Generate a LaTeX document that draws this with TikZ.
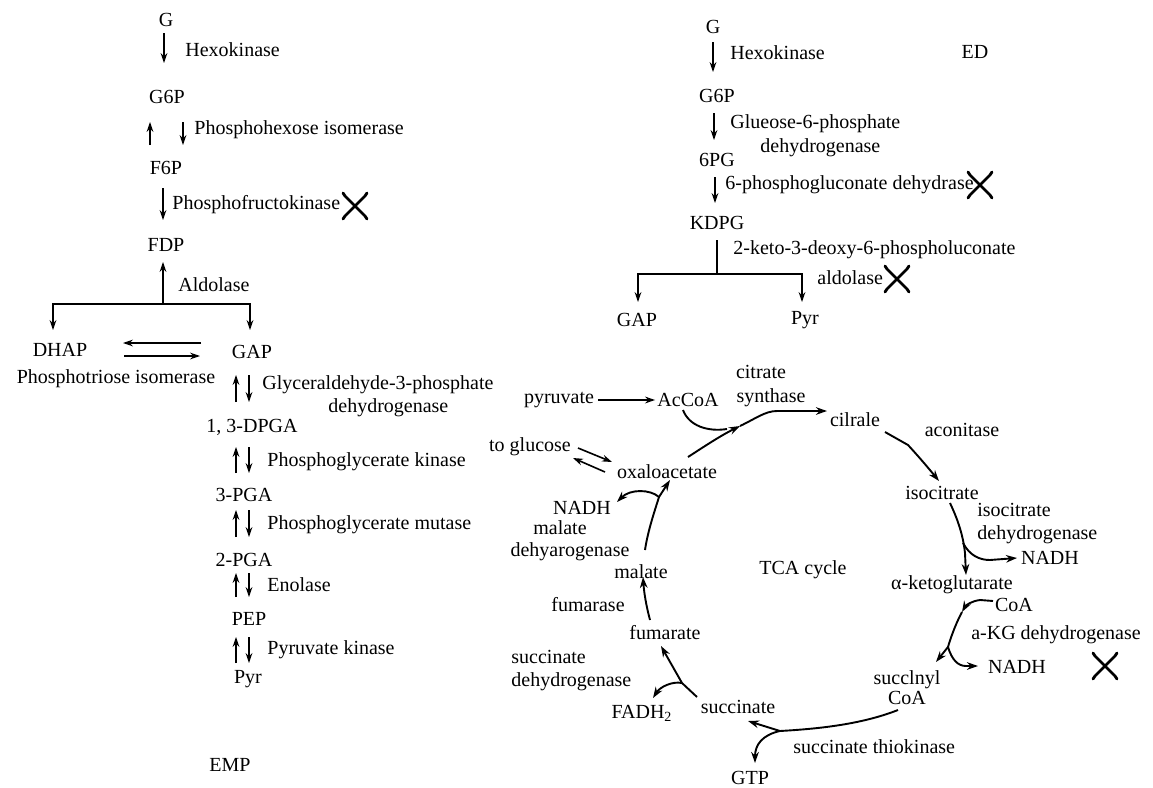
\documentclass[tikz,border=0pt]{standalone}
\usepackage{fontspec}
\setmainfont{Liberation Serif}
\usetikzlibrary{arrows.meta}
\begin{document}
\begin{tikzpicture}[x=0.5pt,y=-0.5pt,
  every node/.style={font=\fontsize{10}{12}\selectfont, inner sep=0pt},
  ar/.style={-{Stealth[length=5pt,width=3.4pt]}, line width=0.65pt},
  tca/.style={-{Stealth[length=5.5pt,width=3.8pt]}, line width=0.95pt},
  ln/.style={line width=0.65pt},
  xmark/.pic={
    \draw[line width=1.4pt,line cap=round] (-12,-13) -- (-10,-10) -- (10,10) -- (12,13);
    \draw[line width=1.4pt,line cap=round] (12,-13) -- (10,-10) -- (-10,10) -- (-12,13);
  }]
\useasboundingbox (0,0) rectangle (1153,788);

% ================= EMP =================
\node (eG) at (166,20) {G};
\coordinate (eGa) at (164,33); \coordinate (eGb) at (164,63);
\draw[ar] (eGa) -- (eGb);
\node[anchor=west] (eHex) at (185,50) {Hexokinase};
\node (eG6P) at (167,97) {G6P};
\coordinate (pu1) at (150,145); \coordinate (pu2) at (150,122);
\coordinate (pd1) at (183,122); \coordinate (pd2) at (183,145);
\draw[ar] (pu1) -- (pu2);
\draw[ar] (pd1) -- (pd2);
\node[anchor=west] (ePHI) at (194,130) {Phosphohexose isomerase};
\node (eF6P) at (166,168) {F6P};
\coordinate (pf1) at (163,188); \coordinate (pf2) at (163,220);
\draw[ar] (pf1) -- (pf2);
\node[anchor=west] (ePFK) at (172,205) {Phosphofructokinase};
\pic at (355,206) {xmark};
\node (eFDP) at (166,245) {FDP};
\coordinate (ej) at (163,304); \coordinate (eFb) at (163,262);
\draw[ar] (ej) -- (eFb);
\node[anchor=west] (eAld) at (178,285) {Aldolase};
\coordinate (eDt) at (53,330); \coordinate (eGt) at (250,330);
\draw[ar] (ej) -| (eDt);
\draw[ar] (ej) -| (eGt);
\node (eDHAP) at (60,350) {DHAP};
\node (eGAP) at (252,352) {GAP};
\coordinate (ti1) at (201,343); \coordinate (ti2) at (123,343);
\coordinate (ti3) at (124,356); \coordinate (ti4) at (200,356);
\draw[ar] (ti1) -- (ti2);
\draw[ar] (ti3) -- (ti4);
\node (ePTI) at (116,379) {Phosphotriose isomerase};

\foreach \t/\b/\n in {375/402/a,447/473/b,510/537/c,573/597/d,637/663/e}{
  \coordinate (u1\n) at (236,\b); \coordinate (u2\n) at (236,\t);
  \coordinate (d1\n) at (249,\t); \coordinate (d2\n) at (249,\b);
  \draw[ar] (u1\n) -- (u2\n);
  \draw[ar] (d1\n) -- (d2\n);
}
\node[anchor=west] (eGAPDH1) at (262,385) {Glyceraldehyde-3-phosphate};
\node[anchor=west] (eGAPDH2) at (328,408) {dehydrogenase};
\node (eDPGA) at (252,427) {1, 3-DPGA};
\node[anchor=west] (ePGK) at (267,462) {Phosphoglycerate kinase};
\node (e3PGA) at (244,495) {3-PGA};
\node[anchor=west] (ePGM) at (267,525) {Phosphoglycerate mutase};
\node (e2PGA) at (244,560) {2-PGA};
\node[anchor=west] (eEno) at (267,585) {Enolase};
\node (ePEP) at (249,619) {PEP};
\node[anchor=west] (ePK) at (267,650) {Pyruvate kinase};
\node (ePyr) at (248,679) {Pyr};
\node (eEMP) at (230,765) {EMP};

% ================= ED =================
\node (dG) at (713,27) {G};
\coordinate (dg1) at (713,42); \coordinate (dg2) at (713,72);
\draw[ar] (dg1) -- (dg2);
\node[anchor=west] (dHex) at (730,53) {Hexokinase};
\node (dED) at (975,52) {ED};
\node (dG6P) at (717,96) {G6P};
\coordinate (dh1) at (714,113); \coordinate (dh2) at (714,140);
\draw[ar] (dh1) -- (dh2);
\node[anchor=west] (dG6PDH1) at (730,124) {Glueose-6-phosphate};
\node[anchor=west] (dG6PDH2) at (760,148) {dehydrogenase};
\node (d6PG) at (717,160) {6PG};
\coordinate (dk1) at (715,177); \coordinate (dk2) at (715,203);
\draw[ar] (dk1) -- (dk2);
\node[anchor=west] (dEDD) at (725,185) {6-phosphogluconate dehydrase};
\pic at (980,185) {xmark};
\node (dKDPG) at (717,223) {KDPG};
\coordinate (dj0) at (717,240); \coordinate (dj) at (717,274);
\coordinate (dGt) at (638,302); \coordinate (dPt) at (802,302);
\draw[ln] (dj0) -- (dj);
\draw[ar] (dj) -| (dGt);
\draw[ar] (dj) -| (dPt);
\node[anchor=west] (dEDA1) at (733,250) {2-keto-3-deoxy-6-phospholuconate};
\node[anchor=west] (dEDA2) at (817,278) {aldolase};
\pic at (897,279) {xmark};
\node (dGAP) at (637,320) {GAP};
\node (dPyr) at (805,320) {Pyr};

% ================= TCA =================
\node (tPyr) at (559,400) {pyruvate};
\node (tAc) at (688,400) {AcCoA};
\draw[ar, line width=0.8pt, shorten <=2pt, shorten >=1pt] (tPyr) -- (tAc);
\node (tCS1) at (761,372) {citrate};
\node (tCS2) at (771,398) {synthase};
\node (tCit) at (855,420) {cilrale};
\node (tAco) at (962,430) {aconitase};
\node (tIso) at (942,493) {isocitrate};
\node[anchor=west] (tIDH1) at (977,510) {isocitrate};
\node[anchor=west] (tIDH2) at (977,535) {dehydrogenase};
\node (tN1) at (1050,558) {NADH};
\node (tAKG) at (952,585) {α-ketoglutarate};
\node (tCoA1) at (1014,605) {CoA};
\node (tKGDH) at (1056,635) {a-KG dehydrogenase};
\node (tN2) at (1017,667) {NADH};
\pic at (1105,666) {xmark};
\node (tSc1) at (907,680) {succlnyl};
\node (tSc2) at (907,698) {CoA};
\node[anchor=west] (tSTK) at (793,747) {succinate thiokinase};
\node (tSuc) at (738,707) {succinate};
\node (tGTP) at (750,778) {GTP};
\node (tFAD) at (642,713) {FADH\textsubscript{2}};
\node[anchor=west] (tSDH1) at (511,657) {succinate};
\node[anchor=west] (tSDH2) at (511,682) {dehydrogenase};
\node (tFum) at (665,633) {fumarate};
\node (tFuma) at (588,605) {fumarase};
\node (tMal) at (641,572) {malate};
\node (tMDH1) at (560,528) {malate};
\node (tMDH2) at (570,552) {dehyarogenase};
\node (tN3) at (582,508) {NADH};
\node (tOxa) at (667,472) {oxaloacetate};
\node (tGlc) at (530,447) {to glucose};
\node (tTCA) at (803,570) {TCA cycle};

% connectors
\coordinate (cOxaT) at (688,457);
\coordinate (cM1) at (740,426);
\coordinate (cAcB) at (683,410);
\coordinate (cMerge) at (727,429);
\coordinate (cCitW) at (827,411);
\draw[tca] (cOxaT) .. controls (705,446) and (720,436) .. (cM1);
\draw[line width=0.95pt] (cAcB) .. controls (689,426) and (708,432) .. (cMerge);
\draw[tca] (cM1) .. controls (755,419) and (765,411) .. (777,411) -- (cCitW);

\coordinate (cCitE) at (885,432); \coordinate (cIsoT) at (939,481);
\draw[tca] (cCitE) -- (908,445) .. controls (920,458) and (930,470) .. (cIsoT);

\coordinate (cIsoB) at (950,503); \coordinate (cIDHj) at (963,543); \coordinate (cAKGt) at (966,575);
\draw[tca] (cIsoB) .. controls (958,520) and (963,535) .. (965,553) -- (cAKGt);
\coordinate (cN1w) at (1017,558);
\draw[tca] (cIDHj) .. controls (970,556) and (980,560) .. (990,560) -- (cN1w);

\coordinate (cCoAw) at (993,601); \coordinate (cK1) at (962,612);
\draw[tca] (cCoAw) -- (980,600) .. controls (972,601) and (966,605) .. (cK1);
\coordinate (cK2) at (948,647); \coordinate (cScT) at (936,662);
\draw[tca] (cK1) .. controls (955,625) and (950,640) .. (cK2) -- (cScT);
\coordinate (cN2w) at (978,666);
\draw[tca] (cK2) .. controls (952,660) and (958,666) .. (966,666) -- (cN2w);

\coordinate (cScB) at (898,710); \coordinate (cSTKj) at (780,731);
\coordinate (cSucE) at (748,721); \coordinate (cGTPt) at (755,763);
\draw[tca] (cScB) .. controls (860,725) and (815,729) .. (cSTKj) -- (cSucE);
\draw[tca] (cSTKj) .. controls (762,735) and (755,745) .. (cGTPt);

\coordinate (cSucT) at (697,697); \coordinate (cSDHj) at (682,683);
\coordinate (cFumB) at (661,646); \coordinate (cFADe) at (653,698);
\draw[tca] (cSucT) -- (cSDHj) -- (cFumB);
\draw[tca] (cSDHj) .. controls (672,681) and (660,687) .. (cFADe);

\coordinate (cFumT) at (650,620); \coordinate (cMalB) at (643,577);
\draw[tca] (cFumT) .. controls (646,605) and (644,592) .. (cMalB);

\coordinate (cMalT) at (645,550); \coordinate (cMDHj) at (659,497);
\coordinate (cOxaB) at (670,480); \coordinate (cN3e) at (617,502);
\draw[tca] (cMalT) .. controls (648,530) and (655,510) .. (cMDHj) -- (cOxaB);
\draw[tca] (cMDHj) .. controls (650,489) and (630,489) .. (cN3e);

\coordinate (cG1) at (578,448); \coordinate (cG2) at (612,462);
\coordinate (cG3) at (605,472); \coordinate (cG4) at (573,458);
\draw[ar, line width=0.8pt] (cG1) -- (cG2);
\draw[ar, line width=0.8pt] (cG3) -- (cG4);
\end{tikzpicture}
\end{document}
